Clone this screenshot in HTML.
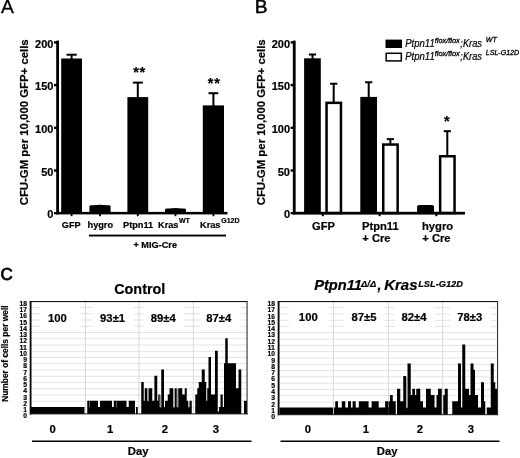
<!DOCTYPE html>
<html><head><meta charset="utf-8"><title>Figure</title>
<style>
html,body{margin:0;padding:0;background:#fff;}
svg{display:block;font-family:"Liberation Sans", sans-serif;fill:#000;filter:blur(0.4px);}
text{stroke:#000;stroke-width:0.2px;}
</style></head><body>
<svg width="520" height="458" viewBox="0 0 520 458">
<rect x="0" y="0" width="520" height="458" fill="#fff"/>
<text x="0.9" y="12.7" font-size="18" font-weight="normal" text-anchor="start"  style="stroke-width:0.3px" textLength="12.9" lengthAdjust="spacingAndGlyphs">A</text>
<rect x="56.20" y="40.60" width="2.80" height="173.70" fill="#000" />
<rect x="56.30" y="211.90" width="171.20" height="2.50" fill="#000" />
<rect x="54.00" y="212.00" width="3.60" height="2.30" fill="#000" />
<text x="53.4" y="218.0" font-size="11" font-weight="bold" text-anchor="end"  >0</text>
<rect x="54.00" y="169.30" width="3.60" height="2.40" fill="#000" />
<text x="53.4" y="175.8" font-size="11" font-weight="bold" text-anchor="end"  >50</text>
<rect x="54.00" y="126.60" width="3.60" height="2.40" fill="#000" />
<text x="53.4" y="133.1" font-size="11" font-weight="bold" text-anchor="end"  >100</text>
<rect x="54.00" y="83.90" width="3.60" height="2.40" fill="#000" />
<text x="53.4" y="90.39999999999999" font-size="11" font-weight="bold" text-anchor="end"  >150</text>
<rect x="54.00" y="41.20" width="3.60" height="2.40" fill="#000" />
<text x="53.4" y="47.7" font-size="11" font-weight="bold" text-anchor="end"  >200</text>
<text transform="translate(28.3,205.3) rotate(-90)" font-size="10.8" font-weight="bold" textLength="166" lengthAdjust="spacingAndGlyphs">CFU-GM per 10,000 GFP+ cells</text>
<rect x="70.60" y="54.70" width="2.00" height="4.80" fill="#000" />
<rect x="66.50" y="53.70" width="10.20" height="2.00" fill="#000" />
<rect x="61.20" y="58.50" width="20.80" height="154.50" fill="#000" />
<rect x="70.70" y="214.00" width="1.80" height="2.20" fill="#000" />
<path d="M89.4,213 V206.39999999999998 Q89.4,205.2 91.4,205.2 H93.4 Q100.0,204.2 106.6,205.2 H108.6 Q110.6,205.2 110.6,206.39999999999998 V213 Z" fill="#000"/>
<rect x="99.10" y="214.00" width="1.80" height="2.20" fill="#000" />
<rect x="136.80" y="82.60" width="2.00" height="15.50" fill="#000" />
<rect x="132.80" y="81.60" width="10.00" height="2.00" fill="#000" />
<rect x="127.40" y="97.10" width="20.80" height="115.90" fill="#000" />
<rect x="136.90" y="214.00" width="1.80" height="2.20" fill="#000" />
<path d="M165,213 V209.79999999999998 Q165,208.6 167,208.6 H169 Q175.5,207.6 182,208.6 H184 Q186,208.6 186,209.79999999999998 V213 Z" fill="#000"/>
<rect x="174.60" y="214.00" width="1.80" height="2.20" fill="#000" />
<rect x="212.40" y="93.20" width="2.00" height="13.20" fill="#000" />
<rect x="208.50" y="92.20" width="9.80" height="2.00" fill="#000" />
<rect x="202.80" y="105.40" width="21.20" height="107.60" fill="#000" />
<rect x="212.50" y="214.00" width="1.80" height="2.20" fill="#000" />
<text x="139.6" y="76.7" font-size="14.5" font-weight="bold" text-anchor="middle"  letter-spacing="0.7">**</text>
<text x="214.2" y="87.5" font-size="14.5" font-weight="bold" text-anchor="middle"  letter-spacing="0.7">**</text>
<text x="71.2" y="227.6" font-size="9.2" font-weight="bold" text-anchor="middle"  >GFP</text>
<text x="100.3" y="227.6" font-size="9.2" font-weight="bold" text-anchor="middle"  >hygro</text>
<text x="138.1" y="227.6" font-size="9.2" font-weight="bold" text-anchor="middle"  >Ptpn11</text>
<text x="158" y="227.6" font-size="9.2" font-weight="bold">Kras<tspan font-size="7" dy="-5" dx="0.5">WT</tspan></text>
<text x="200" y="227.6" font-size="9.2" font-weight="bold">Kras<tspan font-size="7" dy="-5" dx="0.8">G12D</tspan></text>
<rect x="89.00" y="234.60" width="137.00" height="1.90" fill="#000" />
<text x="133.4" y="247.6" font-size="9.2" font-weight="bold" text-anchor="start"  >+ MIG-Cre</text>
<text x="254.8" y="12.7" font-size="18" font-weight="normal" text-anchor="start"  style="stroke-width:0.45px" textLength="12.8" lengthAdjust="spacingAndGlyphs">B</text>
<rect x="292.85" y="40.60" width="2.80" height="173.70" fill="#000" />
<rect x="292.95" y="211.90" width="171.85" height="2.50" fill="#000" />
<rect x="290.65" y="212.00" width="3.60" height="2.30" fill="#000" />
<text x="290.0" y="218.0" font-size="11" font-weight="bold" text-anchor="end"  >0</text>
<rect x="290.65" y="169.30" width="3.60" height="2.40" fill="#000" />
<text x="290.0" y="175.8" font-size="11" font-weight="bold" text-anchor="end"  >50</text>
<rect x="290.65" y="126.60" width="3.60" height="2.40" fill="#000" />
<text x="290.0" y="133.1" font-size="11" font-weight="bold" text-anchor="end"  >100</text>
<rect x="290.65" y="83.90" width="3.60" height="2.40" fill="#000" />
<text x="290.0" y="90.39999999999999" font-size="11" font-weight="bold" text-anchor="end"  >150</text>
<rect x="290.65" y="41.20" width="3.60" height="2.40" fill="#000" />
<text x="290.0" y="47.7" font-size="11" font-weight="bold" text-anchor="end"  >200</text>
<text transform="translate(265.1,205.3) rotate(-90)" font-size="10.8" font-weight="bold" textLength="166" lengthAdjust="spacingAndGlyphs">CFU-GM per 10,000 GFP+ cells</text>
<rect x="311.50" y="54.50" width="2.00" height="4.80" fill="#000" />
<rect x="308.90" y="53.50" width="7.20" height="2.00" fill="#000" />
<rect x="304.10" y="58.30" width="16.70" height="154.70" fill="#000" />
<rect x="332.70" y="83.75" width="2.00" height="18.85" fill="#000" />
<rect x="330.10" y="82.75" width="7.20" height="2.00" fill="#000" />
<rect x="326.55" y="102.85" width="14.40" height="110.15" fill="#fff" stroke="#000" stroke-width="2.5"/>
<rect x="321.80" y="214.00" width="2.00" height="2.20" fill="#000" />
<rect x="367.70" y="82.25" width="2.00" height="15.65" fill="#000" />
<rect x="365.10" y="81.25" width="7.20" height="2.00" fill="#000" />
<rect x="360.30" y="96.90" width="16.70" height="116.10" fill="#000" />
<rect x="389.40" y="139.10" width="2.00" height="5.20" fill="#000" />
<rect x="386.80" y="138.10" width="7.20" height="2.00" fill="#000" />
<rect x="383.25" y="144.55" width="14.40" height="68.45" fill="#fff" stroke="#000" stroke-width="2.5"/>
<rect x="378.60" y="214.00" width="2.00" height="2.20" fill="#000" />
<path d="M417.1,213 V206.4 Q417.1,204.9 419.1,204.9 H432.0 Q434.0,204.9 434.0,206.4 V213 Z" fill="#000"/>
<rect x="446.30" y="131.20" width="2.00" height="24.80" fill="#000" />
<rect x="443.70" y="130.20" width="7.20" height="2.00" fill="#000" />
<rect x="440.15" y="156.25" width="14.40" height="56.75" fill="#fff" stroke="#000" stroke-width="2.5"/>
<rect x="435.40" y="214.00" width="2.00" height="2.20" fill="#000" />
<rect x="293.00" y="211.90" width="171.80" height="2.40" fill="#000" />
<text x="446.8" y="125.5" font-size="14.5" font-weight="bold" text-anchor="middle"  >*</text>
<text x="312" y="230" font-size="11.2" font-weight="bold" text-anchor="start"  >GFP</text>
<text x="362" y="230" font-size="11.2" font-weight="bold" text-anchor="start"  >Ptpn11</text>
<text x="362.3" y="241.8" font-size="11.2" font-weight="bold" text-anchor="start"  >+ Cre</text>
<text x="422" y="230" font-size="11.2" font-weight="bold" text-anchor="start"  >hygro</text>
<text x="422.3" y="241.8" font-size="11.2" font-weight="bold" text-anchor="start"  >+ Cre</text>
<rect x="385.50" y="39.60" width="16.50" height="8.40" fill="#000" />
<rect x="386.2" y="53.3" width="15.1" height="7.6" fill="#fff" stroke="#000" stroke-width="1.5"/>
<g font-style="italic" font-size="10.3"><text x="405.2" y="46.9" textLength="29.5" lengthAdjust="spacingAndGlyphs">Ptpn11</text><text x="434.7" y="42.50" font-size="7.4" style="stroke-width:0.3px">flox/flox</text><text x="460.3" y="46.9" textLength="21.7" lengthAdjust="spacingAndGlyphs">;Kras</text><text x="485.8" y="41.90" font-size="7.05" style="stroke-width:0.3px">WT</text></g>
<g font-style="italic" font-size="10.3"><text x="405.2" y="60.2" textLength="29.5" lengthAdjust="spacingAndGlyphs">Ptpn11</text><text x="434.7" y="55.80" font-size="7.4" style="stroke-width:0.3px">flox/flox</text><text x="460.3" y="60.2" textLength="21.7" lengthAdjust="spacingAndGlyphs">;Kras</text><text x="485.8" y="55.20" font-size="7.05" style="stroke-width:0.3px">LSL-G12D</text></g>
<text x="0.6" y="279.6" font-size="17" font-weight="normal" text-anchor="start"  style="stroke-width:0.8px">C</text>
<text x="114.2" y="293.5" font-size="14.4" font-weight="bold" text-anchor="start"  >Control</text>
<g font-size="13.85" font-weight="bold" font-style="italic"><text x="314.2" y="289.9" textLength="47.8" lengthAdjust="spacingAndGlyphs">Ptpn11</text><text x="361.0" y="287.0" font-size="9.4">Δ/Δ</text><text x="377.4" y="289.9">,</text><text x="384.2" y="289.9" textLength="33.4" lengthAdjust="spacingAndGlyphs">Kras</text><text x="418.2" y="286.9" font-size="9.25">LSL-G12D</text></g>
<rect x="31.30" y="407.05" width="215.70" height="0.90" fill="#e0e0e0" />
<rect x="31.30" y="400.80" width="215.70" height="0.90" fill="#e0e0e0" />
<rect x="31.30" y="394.55" width="215.70" height="0.90" fill="#e0e0e0" />
<rect x="31.30" y="388.30" width="215.70" height="0.90" fill="#e0e0e0" />
<rect x="31.30" y="382.05" width="215.70" height="0.90" fill="#e0e0e0" />
<rect x="31.30" y="375.80" width="215.70" height="0.90" fill="#e0e0e0" />
<rect x="31.30" y="369.55" width="215.70" height="0.90" fill="#e0e0e0" />
<rect x="31.30" y="363.30" width="215.70" height="0.90" fill="#e0e0e0" />
<rect x="31.30" y="357.05" width="215.70" height="0.90" fill="#e0e0e0" />
<rect x="31.30" y="350.80" width="215.70" height="0.90" fill="#e0e0e0" />
<rect x="31.30" y="344.55" width="215.70" height="0.90" fill="#e0e0e0" />
<rect x="31.30" y="338.30" width="215.70" height="0.90" fill="#e0e0e0" />
<rect x="31.30" y="332.05" width="215.70" height="0.90" fill="#e0e0e0" />
<rect x="31.30" y="325.80" width="215.70" height="0.90" fill="#e0e0e0" />
<rect x="31.30" y="319.55" width="215.70" height="0.90" fill="#e0e0e0" />
<rect x="31.30" y="313.30" width="215.70" height="0.90" fill="#e0e0e0" />
<rect x="31.30" y="307.05" width="215.70" height="0.90" fill="#e0e0e0" />
<rect x="85.05" y="301.50" width="0.90" height="112.90" fill="#d4d4d4" />
<rect x="138.45" y="301.50" width="0.90" height="112.90" fill="#d4d4d4" />
<rect x="192.85" y="301.50" width="0.90" height="112.90" fill="#d4d4d4" />
<rect x="40.00" y="303.80" width="40.50" height="24.80" fill="#fff" />
<rect x="93.00" y="303.80" width="40.50" height="24.80" fill="#fff" />
<rect x="143.60" y="303.80" width="40.50" height="24.80" fill="#fff" />
<rect x="200.00" y="303.80" width="40.50" height="24.80" fill="#fff" />
<path d="M31.00,414.05V407.00H84.50V414.05ZM87.25,414.05V400.75H98.00V407.00H100.00V400.75H112.00V407.00H113.75V400.75H126.50V407.00H128.75V400.75H135.00V414.05ZM136.00,414.05V407.00H137.75V414.05ZM141.25,414.05V382.00H143.75V400.75H144.75V388.25H147.25V400.75H148.50V388.25H152.25V400.75H154.40V375.75H157.25V400.75H158.25V394.50H159.75V407.00H161.25V369.50H164.00V407.00H165.00V400.75H167.75V394.50H169.50V388.25H173.25V407.00H175.00V388.25H176.75V407.00H178.25V388.25H182.25V394.50H184.75V388.25H186.75V400.75H188.00V407.00H189.50V400.75H191.75V414.05ZM195.25,414.05V394.50H197.25V388.25H198.75V382.00H201.75V369.50H204.75V382.00H206.25V400.75H207.25V388.25H208.50V357.00H211.00V394.50H215.00V350.75H217.75V411.38H219.00V407.00H220.50V394.50H222.75V407.00H224.00V363.25H225.25V338.25H227.75V363.25H236.00V388.25H238.50V369.50H241.25V414.05ZM244.00,414.05V400.75H247.00V414.05Z" fill="#000"/>
<rect x="29.70" y="301.00" width="1.80" height="113.40" fill="#000" />
<rect x="29.70" y="301.00" width="217.80" height="1.10" fill="#111" />
<rect x="246.50" y="301.00" width="1.10" height="113.40" fill="#333" />
<rect x="29.70" y="413.40" width="217.90" height="1.00" fill="#222" />
<text x="57.4" y="322.0" font-size="11.3" font-weight="bold" text-anchor="middle"  >100</text>
<text x="112.6" y="322.0" font-size="11.3" font-weight="bold" text-anchor="middle"  >93±1</text>
<text x="163.3" y="322.0" font-size="11.3" font-weight="bold" text-anchor="middle"  >89±4</text>
<text x="218.8" y="322.0" font-size="11.3" font-weight="bold" text-anchor="middle"  >87±4</text>
<text x="27.0" y="418.35" font-size="7.7" font-weight="bold" text-anchor="end"  textLength="3.8" lengthAdjust="spacingAndGlyphs">0</text>
<text x="27.0" y="412.1" font-size="7.7" font-weight="bold" text-anchor="end"  textLength="3.8" lengthAdjust="spacingAndGlyphs">1</text>
<text x="27.0" y="405.85" font-size="7.7" font-weight="bold" text-anchor="end"  textLength="3.8" lengthAdjust="spacingAndGlyphs">2</text>
<text x="27.0" y="399.6" font-size="7.7" font-weight="bold" text-anchor="end"  textLength="3.8" lengthAdjust="spacingAndGlyphs">3</text>
<text x="27.0" y="393.35" font-size="7.7" font-weight="bold" text-anchor="end"  textLength="3.8" lengthAdjust="spacingAndGlyphs">4</text>
<text x="27.0" y="387.1" font-size="7.7" font-weight="bold" text-anchor="end"  textLength="3.8" lengthAdjust="spacingAndGlyphs">5</text>
<text x="27.0" y="380.85" font-size="7.7" font-weight="bold" text-anchor="end"  textLength="3.8" lengthAdjust="spacingAndGlyphs">6</text>
<text x="27.0" y="374.6" font-size="7.7" font-weight="bold" text-anchor="end"  textLength="3.8" lengthAdjust="spacingAndGlyphs">7</text>
<text x="27.0" y="368.35" font-size="7.7" font-weight="bold" text-anchor="end"  textLength="3.8" lengthAdjust="spacingAndGlyphs">8</text>
<text x="27.0" y="362.1" font-size="7.7" font-weight="bold" text-anchor="end"  textLength="3.8" lengthAdjust="spacingAndGlyphs">9</text>
<text x="27.0" y="355.85" font-size="7.7" font-weight="bold" text-anchor="end"  textLength="7.5" lengthAdjust="spacingAndGlyphs">10</text>
<text x="27.0" y="349.6" font-size="7.7" font-weight="bold" text-anchor="end"  textLength="7.5" lengthAdjust="spacingAndGlyphs">11</text>
<text x="27.0" y="343.35" font-size="7.7" font-weight="bold" text-anchor="end"  textLength="7.5" lengthAdjust="spacingAndGlyphs">12</text>
<text x="27.0" y="337.1" font-size="7.7" font-weight="bold" text-anchor="end"  textLength="7.5" lengthAdjust="spacingAndGlyphs">13</text>
<text x="27.0" y="330.85" font-size="7.7" font-weight="bold" text-anchor="end"  textLength="7.5" lengthAdjust="spacingAndGlyphs">14</text>
<text x="27.0" y="324.6" font-size="7.7" font-weight="bold" text-anchor="end"  textLength="7.5" lengthAdjust="spacingAndGlyphs">15</text>
<text x="27.0" y="318.35" font-size="7.7" font-weight="bold" text-anchor="end"  textLength="7.5" lengthAdjust="spacingAndGlyphs">16</text>
<text x="27.0" y="312.1" font-size="7.7" font-weight="bold" text-anchor="end"  textLength="7.5" lengthAdjust="spacingAndGlyphs">17</text>
<text x="27.0" y="305.85" font-size="7.7" font-weight="bold" text-anchor="end"  textLength="7.5" lengthAdjust="spacingAndGlyphs">18</text>
<text x="52.6" y="433.1" font-size="11.3" font-weight="bold" text-anchor="middle"  >0</text>
<text x="110.2" y="433.1" font-size="11.3" font-weight="bold" text-anchor="middle"  >1</text>
<text x="165" y="433.1" font-size="11.3" font-weight="bold" text-anchor="middle"  >2</text>
<text x="216" y="433.1" font-size="11.3" font-weight="bold" text-anchor="middle"  >3</text>
<rect x="32.00" y="440.50" width="219.50" height="1.50" fill="#000" />
<text x="127.8" y="455.3" font-size="11.3" font-weight="bold" text-anchor="start"  >Day</text>
<rect x="89.40" y="401.25" width="0.60" height="6.25" fill="#9a9a9a" />
<rect x="116.00" y="401.25" width="0.60" height="6.25" fill="#9a9a9a" />
<rect x="147.30" y="388.75" width="1.10" height="12.50" fill="#9a9a9a" />
<rect x="173.40" y="388.75" width="1.50" height="18.75" fill="#9a9a9a" />
<rect x="176.90" y="388.75" width="1.20" height="18.75" fill="#9a9a9a" />
<rect x="159.90" y="395.00" width="1.20" height="12.50" fill="#9a9a9a" />
<rect x="188.20" y="401.25" width="1.10" height="6.25" fill="#9a9a9a" />
<rect x="279.30" y="407.86" width="218.20" height="0.90" fill="#e0e0e0" />
<rect x="279.30" y="401.57" width="218.20" height="0.90" fill="#e0e0e0" />
<rect x="279.30" y="395.28" width="218.20" height="0.90" fill="#e0e0e0" />
<rect x="279.30" y="388.99" width="218.20" height="0.90" fill="#e0e0e0" />
<rect x="279.30" y="382.70" width="218.20" height="0.90" fill="#e0e0e0" />
<rect x="279.30" y="376.41" width="218.20" height="0.90" fill="#e0e0e0" />
<rect x="279.30" y="370.12" width="218.20" height="0.90" fill="#e0e0e0" />
<rect x="279.30" y="363.83" width="218.20" height="0.90" fill="#e0e0e0" />
<rect x="279.30" y="357.54" width="218.20" height="0.90" fill="#e0e0e0" />
<rect x="279.30" y="351.25" width="218.20" height="0.90" fill="#e0e0e0" />
<rect x="279.30" y="344.96" width="218.20" height="0.90" fill="#e0e0e0" />
<rect x="279.30" y="338.67" width="218.20" height="0.90" fill="#e0e0e0" />
<rect x="279.30" y="332.38" width="218.20" height="0.90" fill="#e0e0e0" />
<rect x="279.30" y="326.09" width="218.20" height="0.90" fill="#e0e0e0" />
<rect x="279.30" y="319.80" width="218.20" height="0.90" fill="#e0e0e0" />
<rect x="279.30" y="313.51" width="218.20" height="0.90" fill="#e0e0e0" />
<rect x="279.30" y="307.22" width="218.20" height="0.90" fill="#e0e0e0" />
<rect x="333.05" y="301.50" width="0.90" height="113.70" fill="#d4d4d4" />
<rect x="387.95" y="301.50" width="0.90" height="113.70" fill="#d4d4d4" />
<rect x="442.25" y="301.50" width="0.90" height="113.70" fill="#d4d4d4" />
<rect x="288.60" y="303.80" width="40.50" height="24.80" fill="#fff" />
<rect x="343.60" y="303.80" width="40.50" height="24.80" fill="#fff" />
<rect x="394.50" y="303.80" width="40.50" height="24.80" fill="#fff" />
<rect x="450.30" y="303.80" width="40.50" height="24.80" fill="#fff" />
<path d="M335.25,414.90V401.22H338.00V414.90ZM341.80,414.90V401.22H345.30V414.90ZM348.00,414.90V401.22H351.00V414.90ZM352.60,414.90V401.22H355.70V414.90ZM358.80,414.90V401.22H368.60V414.90ZM371.60,414.90V401.22H378.70V414.90ZM385.10,414.90V401.22H388.30V414.90ZM388.75,414.90V401.22H390.00V394.93H392.75V401.22H395.75V414.90ZM397.00,414.90V388.64H400.25V401.22H403.25V376.06H406.00V407.51H407.50V363.48H410.75V394.93H412.25V388.64H415.00V394.93H416.25V388.64H420.25V401.22H423.00V407.51H426.00V388.64H430.75V394.93H434.50V407.51H436.50V394.93H438.00V388.64H441.75V414.90ZM443.25,414.90V394.93H444.75V388.64H447.75V414.90ZM452.25,414.90V401.22H458.00V363.48H461.00V407.51H462.25V344.61H465.25V388.64H469.00V394.93H470.50V363.48H473.50V369.77H475.00V394.93H478.00V407.51H481.00V382.35H484.00V401.22H485.25V414.90ZM486.75,414.90V407.51H490.75V363.48H493.75V382.35H495.25V388.64H497.30V414.90Z" fill="#000"/>
<rect x="279.50" y="407.51" width="53.50" height="7.39" fill="#000" />
<rect x="333.90" y="407.51" width="54.70" height="7.39" fill="#000" />
<rect x="277.70" y="301.00" width="1.80" height="114.20" fill="#000" />
<rect x="277.70" y="301.00" width="220.30" height="1.10" fill="#111" />
<rect x="497.00" y="301.00" width="1.10" height="114.20" fill="#333" />
<rect x="277.70" y="414.20" width="220.40" height="1.00" fill="#222" />
<text x="308.3" y="321.3" font-size="11.3" font-weight="bold" text-anchor="middle"  >100</text>
<text x="364" y="321.3" font-size="11.3" font-weight="bold" text-anchor="middle"  >87±5</text>
<text x="414.0" y="321.3" font-size="11.3" font-weight="bold" text-anchor="middle"  >82±4</text>
<text x="469.8" y="321.3" font-size="11.3" font-weight="bold" text-anchor="middle"  >78±3</text>
<text x="275.0" y="419.20000000000005" font-size="7.7" font-weight="bold" text-anchor="end"  textLength="3.8" lengthAdjust="spacingAndGlyphs">0</text>
<text x="275.0" y="412.91" font-size="7.7" font-weight="bold" text-anchor="end"  textLength="3.8" lengthAdjust="spacingAndGlyphs">1</text>
<text x="275.0" y="406.62000000000006" font-size="7.7" font-weight="bold" text-anchor="end"  textLength="3.8" lengthAdjust="spacingAndGlyphs">2</text>
<text x="275.0" y="400.33000000000004" font-size="7.7" font-weight="bold" text-anchor="end"  textLength="3.8" lengthAdjust="spacingAndGlyphs">3</text>
<text x="275.0" y="394.04" font-size="7.7" font-weight="bold" text-anchor="end"  textLength="3.8" lengthAdjust="spacingAndGlyphs">4</text>
<text x="275.0" y="387.75000000000006" font-size="7.7" font-weight="bold" text-anchor="end"  textLength="3.8" lengthAdjust="spacingAndGlyphs">5</text>
<text x="275.0" y="381.46000000000004" font-size="7.7" font-weight="bold" text-anchor="end"  textLength="3.8" lengthAdjust="spacingAndGlyphs">6</text>
<text x="275.0" y="375.1700000000001" font-size="7.7" font-weight="bold" text-anchor="end"  textLength="3.8" lengthAdjust="spacingAndGlyphs">7</text>
<text x="275.0" y="368.88000000000005" font-size="7.7" font-weight="bold" text-anchor="end"  textLength="3.8" lengthAdjust="spacingAndGlyphs">8</text>
<text x="275.0" y="362.59000000000003" font-size="7.7" font-weight="bold" text-anchor="end"  textLength="3.8" lengthAdjust="spacingAndGlyphs">9</text>
<text x="275.0" y="356.30000000000007" font-size="7.7" font-weight="bold" text-anchor="end"  textLength="7.5" lengthAdjust="spacingAndGlyphs">10</text>
<text x="275.0" y="350.01000000000005" font-size="7.7" font-weight="bold" text-anchor="end"  textLength="7.5" lengthAdjust="spacingAndGlyphs">11</text>
<text x="275.0" y="343.72" font-size="7.7" font-weight="bold" text-anchor="end"  textLength="7.5" lengthAdjust="spacingAndGlyphs">12</text>
<text x="275.0" y="337.43000000000006" font-size="7.7" font-weight="bold" text-anchor="end"  textLength="7.5" lengthAdjust="spacingAndGlyphs">13</text>
<text x="275.0" y="331.14000000000004" font-size="7.7" font-weight="bold" text-anchor="end"  textLength="7.5" lengthAdjust="spacingAndGlyphs">14</text>
<text x="275.0" y="324.85" font-size="7.7" font-weight="bold" text-anchor="end"  textLength="7.5" lengthAdjust="spacingAndGlyphs">15</text>
<text x="275.0" y="318.56000000000006" font-size="7.7" font-weight="bold" text-anchor="end"  textLength="7.5" lengthAdjust="spacingAndGlyphs">16</text>
<text x="275.0" y="312.27000000000004" font-size="7.7" font-weight="bold" text-anchor="end"  textLength="7.5" lengthAdjust="spacingAndGlyphs">17</text>
<text x="275.0" y="305.98" font-size="7.7" font-weight="bold" text-anchor="end"  textLength="7.5" lengthAdjust="spacingAndGlyphs">18</text>
<text x="308" y="433.1" font-size="11.3" font-weight="bold" text-anchor="middle"  >0</text>
<text x="365.8" y="433.1" font-size="11.3" font-weight="bold" text-anchor="middle"  >1</text>
<text x="420" y="433.1" font-size="11.3" font-weight="bold" text-anchor="middle"  >2</text>
<text x="471" y="433.1" font-size="11.3" font-weight="bold" text-anchor="middle"  >3</text>
<rect x="280.50" y="440.50" width="219.00" height="1.50" fill="#000" />
<text x="376.8" y="455.3" font-size="11.3" font-weight="bold" text-anchor="start"  >Day</text>
<rect x="406.20" y="376.86" width="1.10" height="31.45" fill="#9a9a9a" />
<text transform="translate(8.4,401.8) rotate(-90)" font-size="8.4" font-weight="bold">Number of cells per well</text>
</svg>
</body></html>
